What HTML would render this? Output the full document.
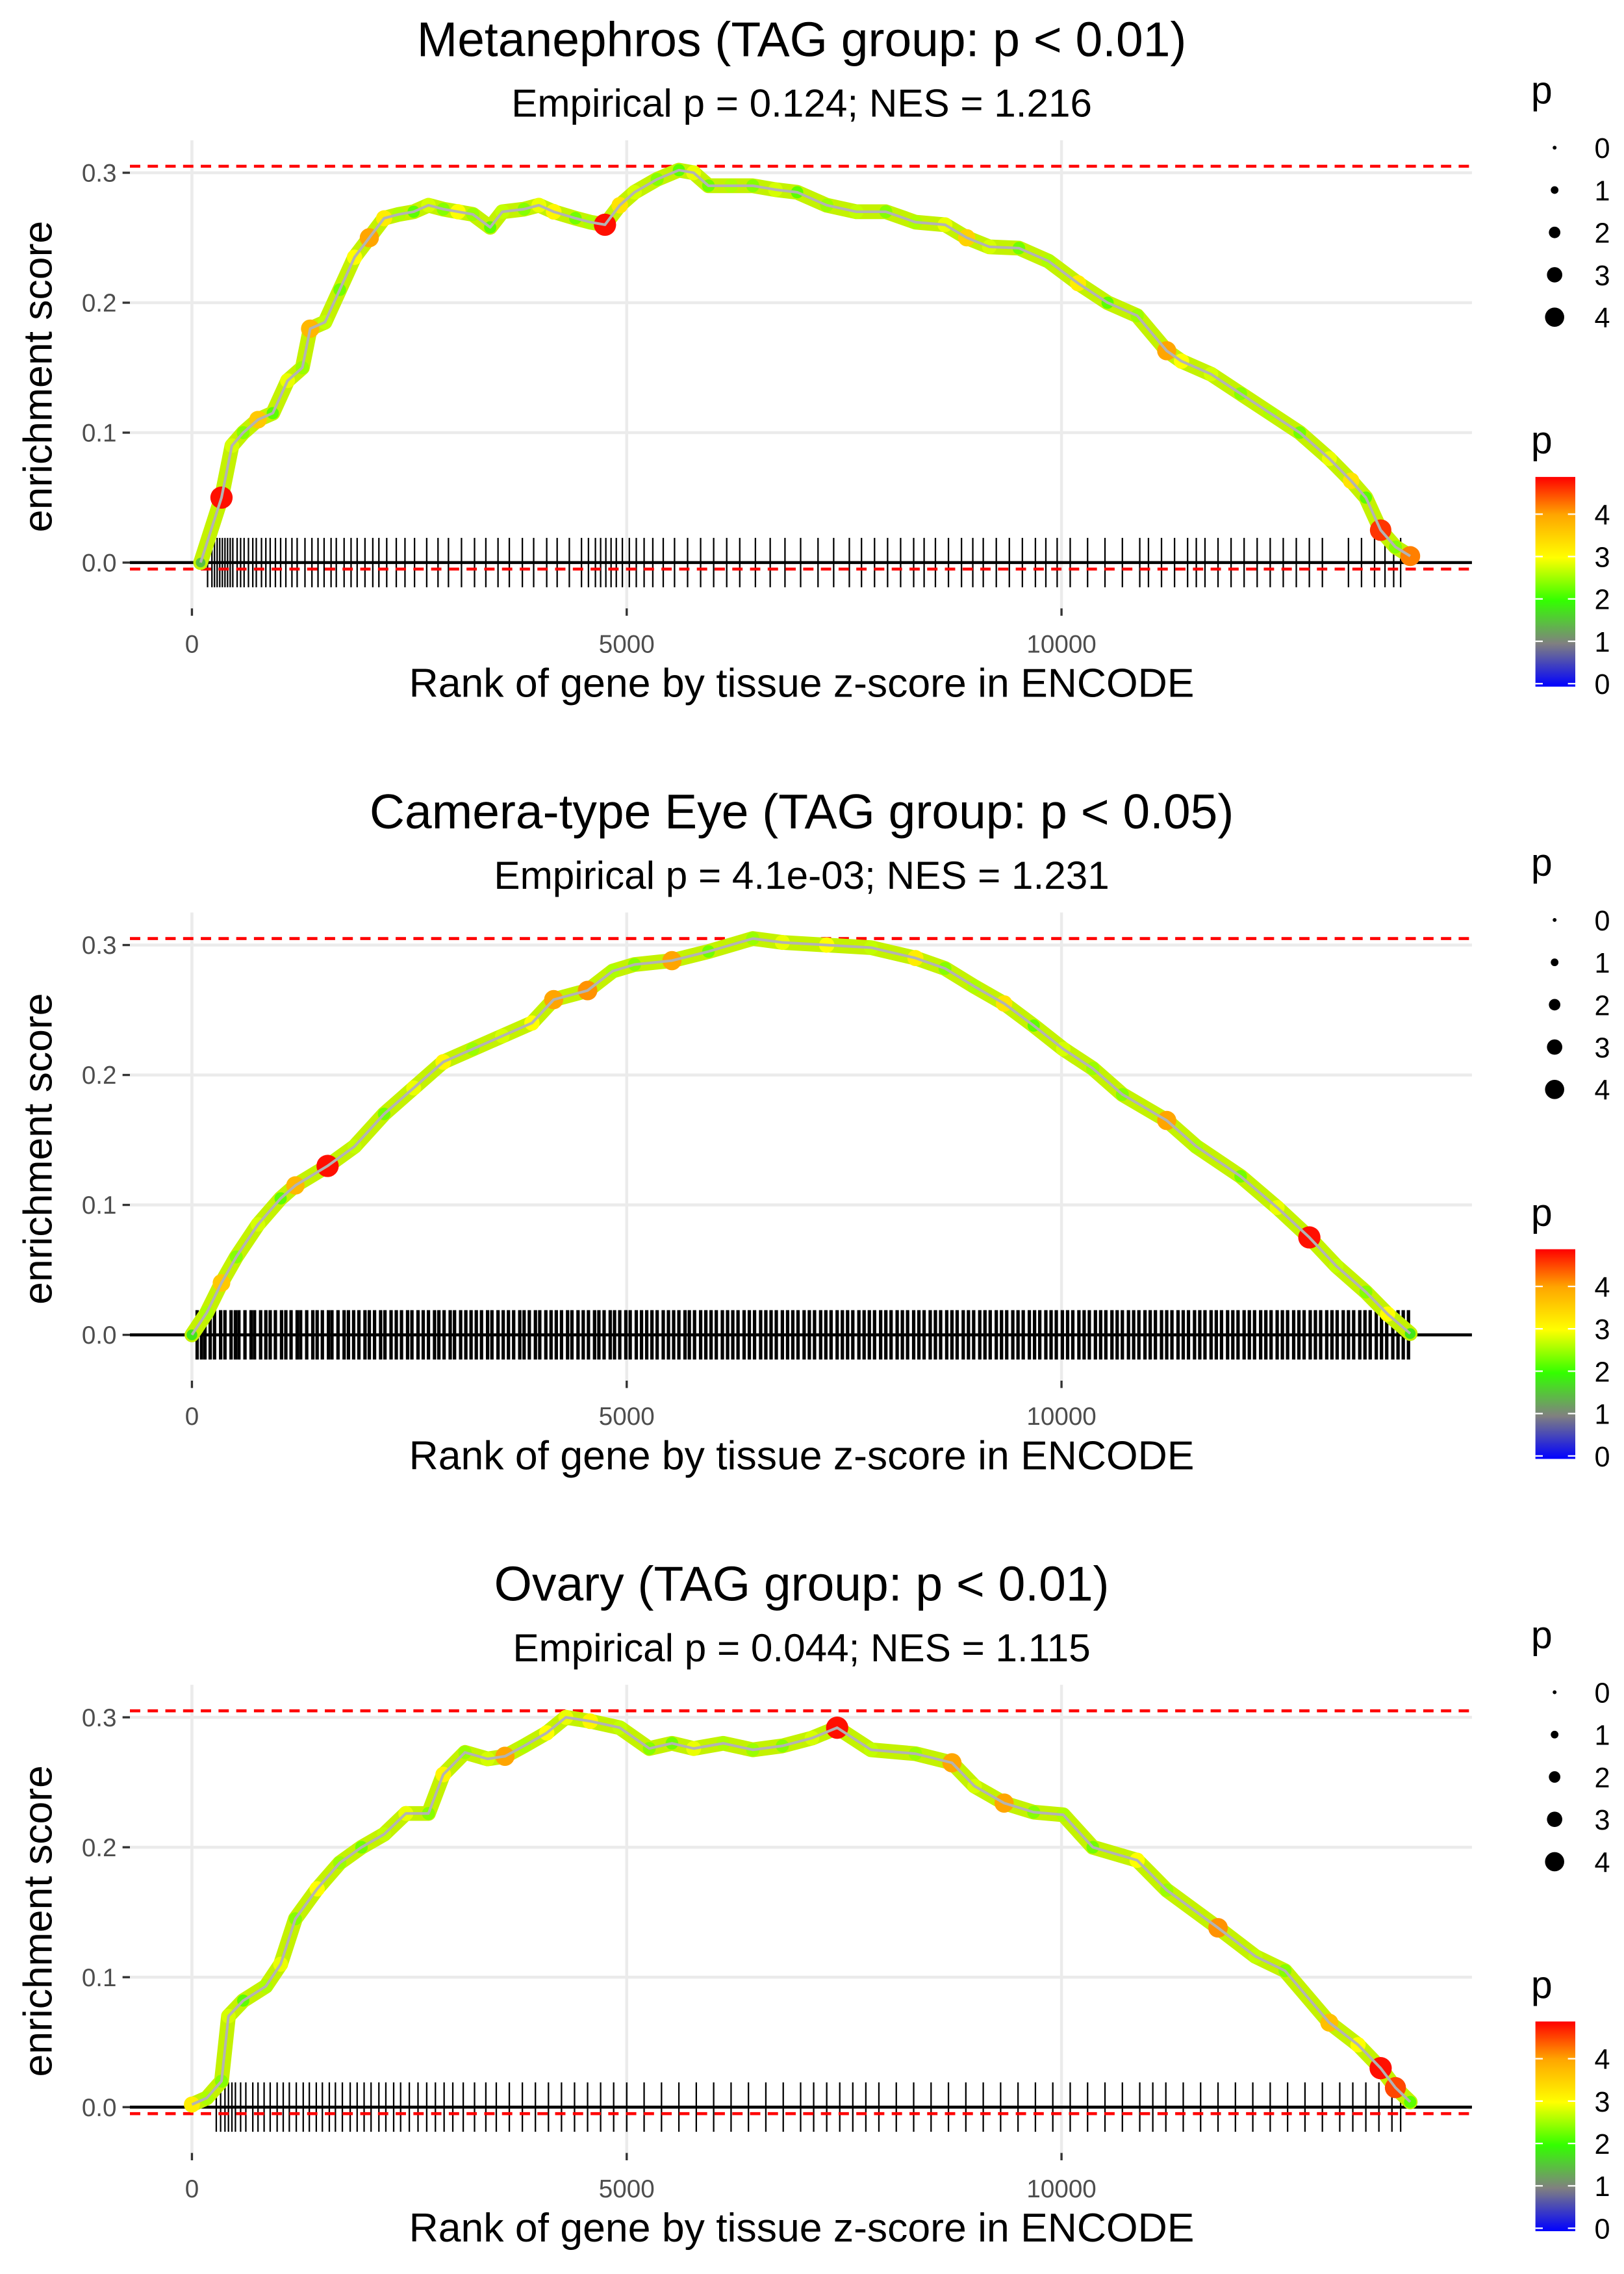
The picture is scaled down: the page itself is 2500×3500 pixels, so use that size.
<!DOCTYPE html>
<html><head><meta charset="utf-8"><style>
html,body{margin:0;padding:0;background:#fff}
svg{display:block}
text{font-family:"Liberation Sans",Arial,sans-serif}
</style></head><body>
<svg id="chart" xmlns="http://www.w3.org/2000/svg" width="2500" height="3500" viewBox="0 0 1100 1540"></svg>
<script>
// ---------- Data ----------
const titles = ["Metanephros (TAG group: p < 0.01)", "Camera-type Eye (TAG group: p < 0.05)", "Ovary (TAG group: p < 0.01)"];
const subtitles = ["Empirical p = 0.124; NES = 1.216", "Empirical p = 4.1e-03; NES = 1.231", "Empirical p = 0.044; NES = 1.115"];
const yTicks = [0.0, 0.1, 0.2, 0.3];
const yTickLabels = ["0.0", "0.1", "0.2", "0.3"];
const xTicks = [0, 5000, 10000];
const xTickLabels = ["0", "5000", "10000"];
const sizeLegendValues = [0, 1, 2, 3, 4];
const colorLegendValues = [0, 1, 2, 3, 4];
const maxES = [0.305, 0.305, 0.305];
const minES = [-0.005, 0, -0.005];

const ranks1 = [100,340,460,590,760,930,1100,1270,1360,1530,1700,1870,2040,2210,2380,2550,2720,2890,3060,3230,3430,3570,3820,3990,4160,4410,4580,4750,4920,5090,5350,5600,5770,5940,6200,6450,6710,6960,7300,7640,7980,8320,8660,8910,9170,9510,9850,10190,10530,10870,11210,11380,11720,12060,12400,12740,13080,13330,13500,13670,13840,14010];
const es1 = [0.0,0.05,0.09,0.1,0.11,0.115,0.14,0.15,0.18,0.185,0.21,0.235,0.25,0.265,0.268,0.27,0.275,0.272,0.27,0.268,0.258,0.27,0.272,0.275,0.27,0.265,0.262,0.26,0.275,0.285,0.295,0.302,0.3,0.29,0.29,0.29,0.287,0.285,0.275,0.27,0.27,0.262,0.26,0.25,0.243,0.242,0.232,0.215,0.2,0.19,0.163,0.155,0.145,0.13,0.115,0.1,0.08,0.063,0.05,0.025,0.012,0.005];
const p1 = [1.5,4.8,2.8,2.4,3.6,2.2,2.9,2.5,3.8,2.7,2.3,3.0,4.0,3.2,2.6,2.2,2.8,2.4,3.0,2.5,2.2,2.7,2.4,2.9,3.1,2.3,2.6,4.8,3.3,2.8,2.4,2.2,2.9,2.3,2.6,2.4,2.8,2.2,2.5,2.7,2.4,2.6,2.9,3.5,2.8,2.3,2.6,3.2,2.2,2.5,4.0,3.0,2.8,2.4,2.6,2.3,2.9,3.3,2.2,4.6,2.4,4.2];
const hits1 = [180,230,260,290,320,350,380,410,440,470,520,560,600,650,700,740,800,850,900,960,1020,1080,1150,1210,1300,1380,1450,1520,1600,1660,1750,1830,1900,1990,2080,2150,2240,2350,2450,2560,2700,2830,2950,3100,3250,3380,3520,3650,3800,3930,4080,4200,4340,4480,4560,4640,4700,4760,4820,4880,4950,5030,5110,5200,5300,5420,5550,5700,5850,6000,6150,6300,6480,6650,6820,7000,7200,7380,7560,7700,7850,8000,8150,8300,8420,8550,8700,8850,8980,9100,9250,9400,9550,9700,9820,9950,10100,10300,10500,10700,10900,11000,11150,11300,11450,11550,11650,11800,11950,12100,12250,12400,12550,12700,12850,13000,13300,13450,13600,13720,13820,13900];

const ranks2 = [0,170,340,510,760,1020,1190,1560,1870,2210,2550,2890,3230,3570,3910,4160,4550,4840,5090,5520,5940,6450,6790,7300,7810,8320,8660,9000,9340,9680,10020,10360,10700,11210,11550,12060,12480,12850,13160,13500,13750,14010];
const es2 = [0,0.017,0.04,0.06,0.085,0.105,0.115,0.13,0.145,0.17,0.19,0.21,0.22,0.23,0.24,0.258,0.265,0.28,0.285,0.288,0.295,0.305,0.302,0.3,0.298,0.29,0.282,0.268,0.255,0.238,0.22,0.205,0.185,0.165,0.145,0.122,0.098,0.075,0.053,0.033,0.016,0.001];
const p2 = [1.8,2.6,3.6,2.4,2.8,2.2,3.8,4.8,2.7,2.3,2.9,3.1,2.5,2.8,3.0,4.0,4.1,2.6,2.4,4.0,2.3,2.5,2.9,3.0,2.7,3.2,2.4,2.6,3.3,2.2,2.8,2.5,2.4,4.0,2.6,2.3,2.9,4.8,2.7,2.4,3.0,1.8];
const hits2 = [60,110,150,210,260,330,380,450,500,540,610,680,720,790,850,900,960,1030,1080,1140,1210,1250,1320,1390,1440,1500,1570,1610,1680,1750,1800,1860,1920,1990,2040,2100,2170,2220,2290,2350,2410,2480,2530,2600,2660,2720,2790,2840,2900,2970,3020,3090,3150,3210,3270,3330,3400,3450,3520,3580,3640,3700,3770,3820,3880,3950,4000,4070,4130,4190,4250,4320,4370,4440,4500,4560,4630,4680,4740,4810,4860,4920,4990,5040,5110,5170,5230,5290,5350,5420,5480,5540,5600,5670,5720,5780,5850,5910,5970,6030,6100,6160,6220,6280,6350,6410,6470,6540,6600,6660,6720,6790,6850,6910,6970,7040,7100,7160,7230,7290,7350,7420,7480,7540,7600,7670,7730,7790,7850,7920,7980,8040,8110,8170,8230,8300,8360,8420,8490,8550,8610,8680,8740,8800,8870,8930,8990,9060,9120,9180,9250,9310,9370,9440,9500,9560,9630,9690,9750,9820,9880,9940,10010,10070,10130,10200,10260,10320,10390,10450,10510,10580,10640,10700,10770,10830,10890,10960,11020,11080,11150,11210,11270,11340,11400,11460,11530,11590,11650,11720,11780,11840,11910,11970,12030,12100,12160,12220,12290,12350,12410,12480,12540,12600,12670,12730,12790,12860,12920,12980,13050,13110,13170,13240,13300,13360,13430,13490,13550,13620,13680,13740,13810,13870,13930,13990];

const ranks3 = [0,170,340,420,590,850,1020,1190,1440,1700,1950,2210,2460,2720,2890,3140,3400,3600,3820,4080,4300,4580,4920,5260,5520,5770,6110,6450,6790,7130,7420,7810,8320,8740,9000,9340,9680,10020,10360,10870,11210,11800,12230,12570,13080,13410,13670,13840,14010];
const es3 = [0.002,0.007,0.02,0.07,0.082,0.093,0.11,0.145,0.168,0.188,0.2,0.21,0.226,0.226,0.256,0.273,0.268,0.27,0.278,0.288,0.3,0.297,0.292,0.276,0.28,0.276,0.28,0.275,0.278,0.284,0.292,0.275,0.272,0.265,0.247,0.234,0.227,0.225,0.2,0.19,0.167,0.138,0.116,0.105,0.065,0.048,0.03,0.015,0.004];
const p3 = [3.2,2.6,2.4,2.8,2.2,2.6,2.9,2.4,3.0,2.5,2.3,2.7,2.9,2.4,3.1,2.5,2.8,4.0,2.6,3.0,2.9,3.1,2.7,2.4,2.3,2.9,2.6,2.5,2.4,2.8,4.8,2.7,2.5,4.0,2.8,4.0,2.4,2.6,2.3,3.0,2.5,4.1,2.7,2.4,3.7,3.0,4.8,4.5,2.2];
const hits3 = [280,330,380,420,460,500,560,620,700,760,830,900,980,1050,1120,1200,1280,1350,1430,1500,1580,1650,1730,1820,1900,1980,2060,2150,2230,2320,2400,2500,2600,2700,2800,2900,3000,3120,3250,3380,3500,3650,3800,3950,4100,4250,4400,4550,4700,4850,5000,5200,5400,5600,5800,6000,6200,6400,6600,6800,7000,7150,7300,7450,7600,7750,7900,8100,8300,8500,8700,8900,9100,9300,9500,9700,9900,10100,10300,10500,10700,10900,11050,11200,11400,11600,11800,12000,12200,12400,12600,12800,13000,13200,13350,13500,13650,13800,13900];

const panelRanks = [ranks1, ranks2, ranks3];
const panelES = [es1, es2, es3];
const panelP = [p1, p2, p3];
const panelHits = [hits1, hits2, hits3];
const hitWidth = [1.0, 2.3, 1.0];

// ---------- Helpers ----------
const NS = "http://www.w3.org/2000/svg";
const svg = document.getElementById("chart");
function mk(tag, attrs, parent) {
  const e = document.createElementNS(NS, tag);
  for (const k in attrs) e.setAttribute(k, attrs[k]);
  (parent || svg).appendChild(e);
  return e;
}
const X0 = 130, XPER = 0.0589;
function xs(r) { return X0 + r * XPER; }
function ysFor(o) { return v => 381 + o - v * 880; }
const stops = [[0,[0,0,255]],[1,[128,128,128]],[2,[51,255,0]],[3,[255,255,0]],[4,[255,165,0]],[4.88,[255,0,0]]];
function colorOf(p) {
  p = Math.max(0, Math.min(4.88, p));
  for (let i = 1; i < stops.length; i++) {
    if (p <= stops[i][0]) {
      const a = stops[i-1], b = stops[i], t = (p - a[0]) / (b[0] - a[0]);
      const c = a[1].map((v, j) => Math.round(v + (b[1][j] - v) * t));
      return `rgb(${c[0]},${c[1]},${c[2]})`;
    }
  }
  return "rgb(255,0,0)";
}
function radiusOf(p) { return 1.3 + p * 1.3; }

// ---------- Panels ----------
for (let k = 0; k < 3; k++) {
  const o = k * 523;
  const ys = ysFor(o);
  const g = mk("g", {});
  
  

  const t = mk("text", {x: 543, y: 38 + o, "text-anchor": "middle", "font-size": 33, fill: "#000"}, g);
  t.textContent = titles[k];
  
  
  const st = mk("text", {x: 543, y: 79 + o, "text-anchor": "middle", "font-size": 26.5, fill: "#000"}, g);
  st.textContent = subtitles[k];
  
  

  const grid = mk("g", {stroke: "#ebebeb", "stroke-width": 2}, g);
  
  
  yTicks.forEach(v => { if (v > 0) mk("line", {x1: 88, x2: 997, y1: ys(v), y2: ys(v)}, grid); });
  xTicks.forEach(v => mk("line", {x1: xs(v), x2: xs(v), y1: 95 + o, y2: 412 + o}, grid));

  const ticksG = mk("g", {stroke: "#000", "stroke-width": hitWidth[k]}, g);
  
  
  panelHits[k].forEach(r => mk("line", {x1: xs(r), x2: xs(r), y1: ys(0.019), y2: ys(-0.019)}, ticksG));

  const zl = mk("line", {x1: 88, x2: 997, y1: ys(0), y2: ys(0), stroke: "#000", "stroke-width": 2}, g);
  
  
  const mx = mk("line", {x1: 88, x2: 997, y1: ys(maxES[k]), y2: ys(maxES[k]), stroke: "#ff0000", "stroke-width": 2, "stroke-dasharray": "7,5"}, g);
  
  
  if (minES[k] < 0) {
    const mn = mk("line", {x1: 88, x2: 997, y1: ys(minES[k]), y2: ys(minES[k]), stroke: "#ff0000", "stroke-width": 2, "stroke-dasharray": "7,5"}, g);
    
    
  }

  const R = panelRanks[k], E = panelES[k], P = panelP[k];
  const d = R.map((r, i) => (i ? "L" : "M") + xs(r).toFixed(2) + "," + ys(E[i]).toFixed(2)).join(" ");
  const under = mk("path", {d: d, fill: "none", stroke: "#c4f200", "stroke-width": 10, "stroke-linejoin": "round", "stroke-linecap": "round"}, g);
  
  
  const dots = mk("g", {}, g);
  
  
  R.forEach((r, i) => {
    const c = mk("circle", {cx: xs(r), cy: ys(E[i]), r: radiusOf(P[i]), fill: colorOf(P[i])}, dots);
    
    
  });
  const line = mk("path", {d: d, fill: "none", stroke: "#b3b3b3", "stroke-width": 1.8, "stroke-linejoin": "round"}, g);
  
  

  const ya = mk("g", {}, g);
  
  
  yTicks.forEach((v, i) => {
    mk("line", {x1: 83, x2: 88, y1: ys(v), y2: ys(v), stroke: "#333", "stroke-width": 1.5}, ya);
    const tl = mk("text", {x: 79, y: ys(v) + 6, "text-anchor": "end", "font-size": 17, fill: "#4d4d4d"}, ya);
    tl.textContent = yTickLabels[i];
    
    
  });
  const xa = mk("g", {}, g);
  
  
  xTicks.forEach((v, i) => {
    mk("line", {x1: xs(v), x2: xs(v), y1: 412 + o, y2: 417 + o, stroke: "#333", "stroke-width": 1.5}, xa);
    const tl = mk("text", {x: xs(v), y: 442 + o, "text-anchor": "middle", "font-size": 17, fill: "#4d4d4d"}, xa);
    tl.textContent = xTickLabels[i];
    
    
  });
  const xt = mk("text", {x: 543, y: 472 + o, "text-anchor": "middle", "font-size": 27.5, fill: "#000"}, g);
  xt.textContent = "Rank of gene by tissue z-score in ENCODE";
  
  
  const yt = mk("text", {x: 0, y: 0, "text-anchor": "middle", "font-size": 27.5, fill: "#000", transform: `translate(35,${255 + o}) rotate(-90)`}, g);
  yt.textContent = "enrichment score";
  
  

  // size legend
  const sl = mk("g", {}, g);
  
  
  const slt = mk("text", {x: 1037, y: 70 + o, "font-size": 26, fill: "#000"}, sl);
  slt.textContent = "p";
  sizeLegendValues.forEach((v, i) => {
    const cy = 100 + o + i * 28.7;
    const c = mk("circle", {cx: 1053, cy: cy, r: radiusOf(v), fill: "#000"}, sl);
    
    
    const lt = mk("text", {x: 1080, y: cy + 7, "font-size": 19, fill: "#000"}, sl);
    lt.textContent = String(v);
    
    
  });

  // color legend
  const cl = mk("g", {}, g);
  
  
  const clt = mk("text", {x: 1037, y: 307 + o, "font-size": 26, fill: "#000"}, cl);
  clt.textContent = "p";
  const gid = "grad" + k;
  const defs = mk("defs", {}, cl);
  const lg = mk("linearGradient", {id: gid, x1: 0, y1: 1, x2: 0, y2: 0}, defs);
  stops.forEach(s => {
    const c = s[1];
    mk("stop", {offset: (s[0] / 4.88).toFixed(4), "stop-color": `rgb(${c[0]},${c[1]},${c[2]})`}, lg);
  });
  const bar = mk("rect", {x: 1040, y: 323 + o, width: 27, height: 142, fill: `url(#${gid})`}, cl);
  
  
  colorLegendValues.forEach(v => {
    const y = 463 + o - v * 28.7;
    mk("line", {x1: 1040, x2: 1045, y1: y, y2: y, stroke: "#fff", "stroke-width": 1}, cl);
    mk("line", {x1: 1062, x2: 1067, y1: y, y2: y, stroke: "#fff", "stroke-width": 1}, cl);
    const lt = mk("text", {x: 1080, y: y + 7, "font-size": 19, fill: "#000"}, cl);
    lt.textContent = String(v);
    
    
  });
}
</script>
</body></html>
